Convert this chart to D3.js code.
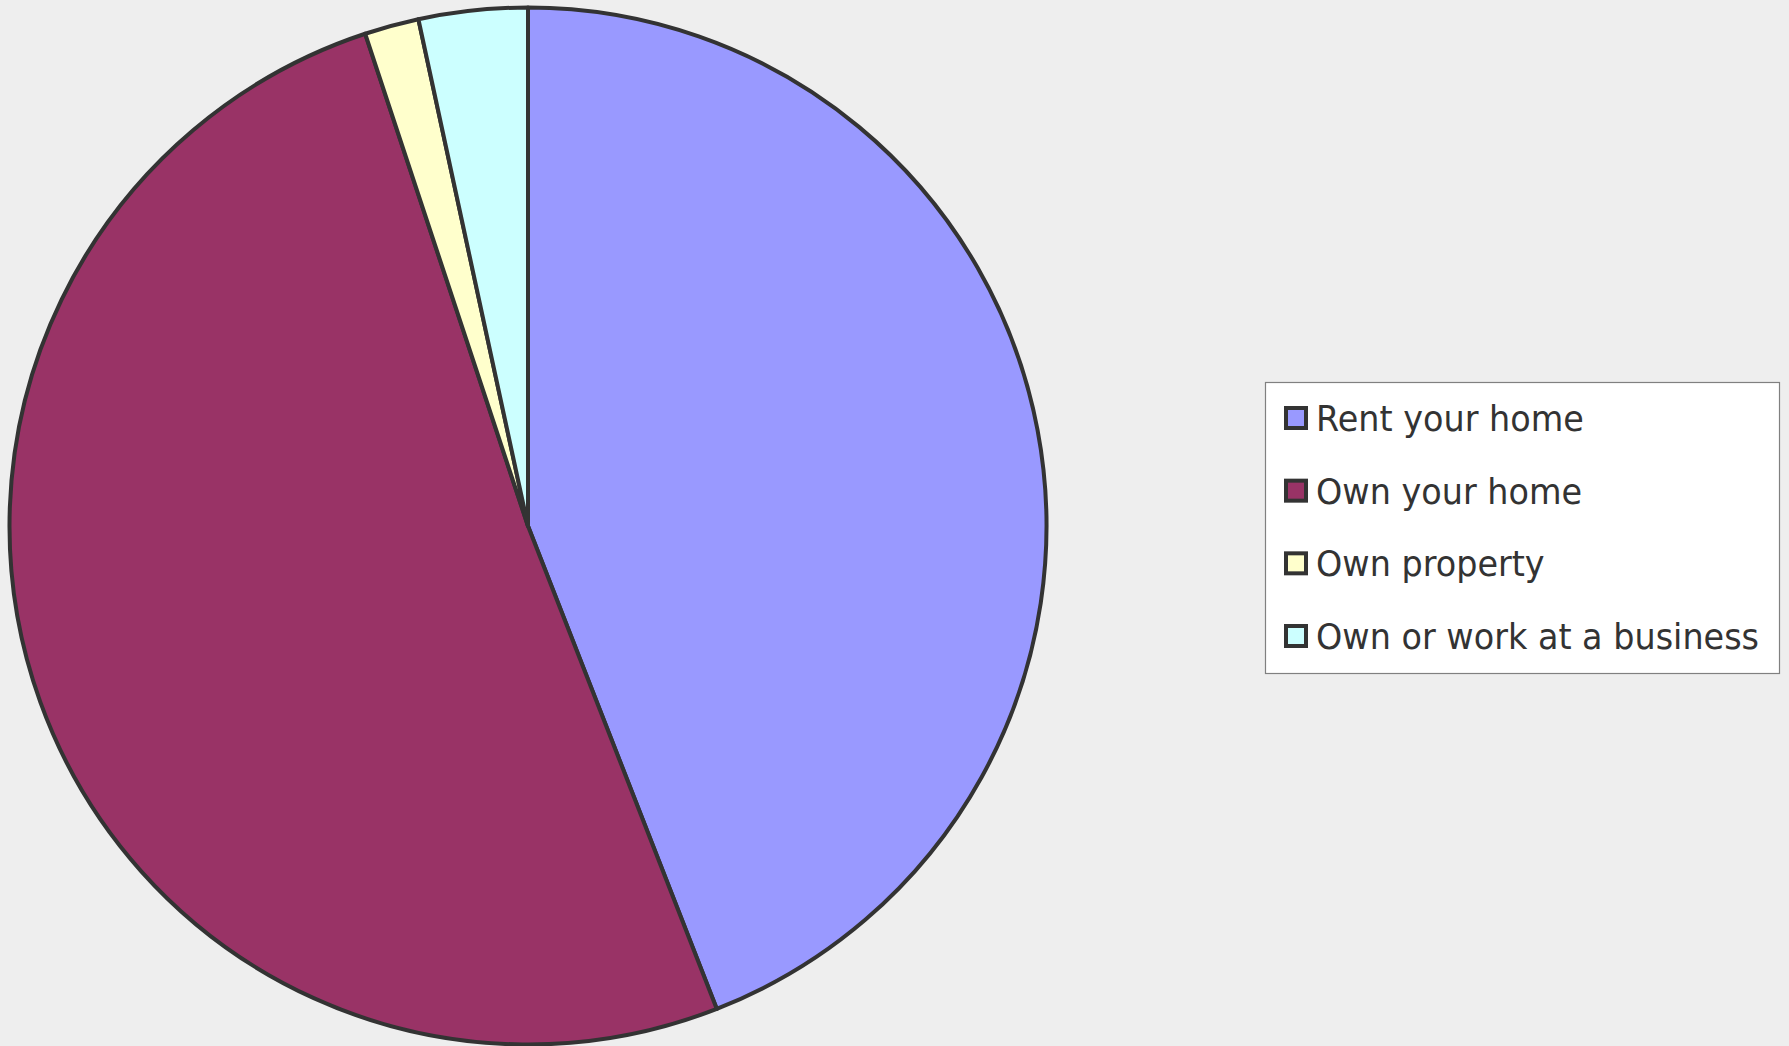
<!DOCTYPE html>
<html>
<head>
<meta charset="utf-8">
<script src="https://cdn.jsdelivr.net/npm/d3@7"></script>
<style>
  body { margin: 0; background: #eeeeee; }
  svg { display: block; }
</style>
</head>
<body>
<div id="chart"></div>
<script>
var categories = ['Rent your home', 'Own your home', 'Own property', 'Own or work at a business'];
var values = [26, 30, 1, 2];
var colors = ['#9999ff', '#993366', '#ffffcc', '#ccffff'];

var width = 1789, height = 1046;
var cx = 528, cy = 526, radius = 518.5;

var svg = d3.select('#chart').append('svg')
  .attr('width', width)
  .attr('height', height);

svg.append('rect').attr('width', width).attr('height', height).attr('fill', '#eeeeee');

var pie = d3.pie().sort(null).value(function (d) { return d; });
var arc = d3.arc().innerRadius(0).outerRadius(radius);

var g = svg.append('g').attr('transform', 'translate(' + cx + ',' + cy + ')');

g.selectAll('path')
  .data(pie(values))
  .enter()
  .append('path')
  .attr('d', arc)
  .attr('fill', function (d, i) { return colors[i]; })
  .attr('stroke', '#333333')
  .attr('stroke-width', 4)
  .attr('stroke-linejoin', 'round');

// legend
var lx = 1265, ly = 382, lw = 514, lh = 291;
var legend = svg.append('g');
legend.append('rect')
  .attr('x', lx + 0.5).attr('y', ly + 0.5)
  .attr('width', lw).attr('height', lh)
  .attr('fill', '#ffffff')
  .attr('stroke', '#808080')
  .attr('stroke-width', 1.2);

var rowY = d3.scalePoint().domain(categories).range([418, 636]);

var items = legend.selectAll('g.item')
  .data(categories)
  .enter()
  .append('g')
  .attr('class', 'item')
  .attr('transform', function (d) { return 'translate(0,' + rowY(d) + ')'; });

items.append('rect')
  .attr('x', 1286).attr('y', -10)
  .attr('width', 20).attr('height', 20)
  .attr('fill', function (d, i) { return colors[i]; })
  .attr('stroke', '#333333')
  .attr('stroke-width', 4);

var labels = items.append('text')
  .attr('x', 1316)
  .attr('y', 13)
  .attr('fill', '#333333')
  .style('font-family', 'DejaVu Sans, Verdana, sans-serif')
  .style('font-size', '35px')
  .text(function (d) { return d; });

// squeeze a little to a Tahoma-like width (longest label is ~443px wide)
var longest = d3.max(labels.nodes(), function (n) { return n.getComputedTextLength(); });
var squeeze = Math.min(1, 443 / longest);
labels.attr('textLength', function () { return this.getComputedTextLength() * squeeze; })
  .attr('lengthAdjust', 'spacingAndGlyphs');
</script>
</body>
</html>
